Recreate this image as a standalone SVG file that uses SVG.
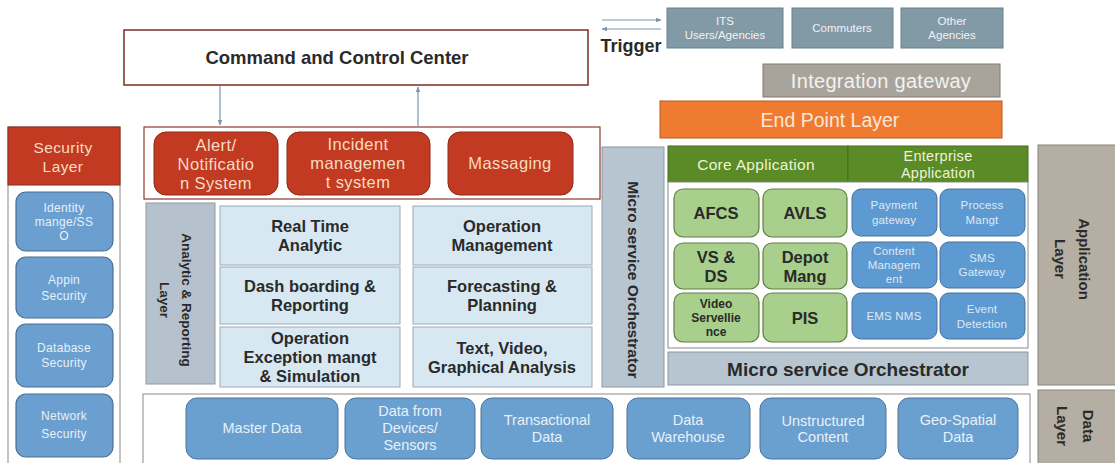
<svg xmlns="http://www.w3.org/2000/svg" width="1115" height="463" viewBox="0 0 1115 463">
<defs>
<marker id="ah" viewBox="0 0 10 10" refX="9" refY="5" markerWidth="5" markerHeight="5" orient="auto-start-reverse">
<path d="M0,1 L10,5 L0,9 z" fill="#7a94ad"/>
</marker>
<style>
text{font-family:"Liberation Sans",Arial,sans-serif;text-anchor:middle;dominant-baseline:central}
.dk{fill:#2a2a2a;font-weight:700}
.wt{fill:#f2f2f2}
.red{fill:#c23a22;stroke:#8e2a18;stroke-width:1}
.redt{fill:#f6dcc0;font-size:16.5px;letter-spacing:0.4px}
.sec{fill:#6a9fd0;stroke:#4b6f92;stroke-width:1.2}
.sect{fill:#e8f0f8;font-size:12px;letter-spacing:0.3px}
.gb{fill:#8299a6;stroke:#66808e;stroke-width:1}
.an{fill:#d8e8f3;stroke:#9aaab6;stroke-width:1}
.ant{font-size:16.5px}
.grn{fill:#a8d08c;stroke:#607f42;stroke-width:1.2}
.grt{font-size:16.5px}
.ent{fill:#5e9ad2;stroke:#46719a;stroke-width:1}
.entt{fill:#dfe9f3;font-size:11.5px;letter-spacing:0.2px}
.dat{fill:#6aa0d0;stroke:#4c7397;stroke-width:1}
.datt{fill:#e8f0f8;font-size:14.5px}
.ms{fill:#b7c5d1;stroke:#8a98a3;stroke-width:1}
.lay{fill:#b4afa2;stroke:#8a867c;stroke-width:1}
.conn{stroke:#7a94ad;stroke-width:1.2;fill:none;marker-end:url(#ah)}
</style>
</defs>
<rect width="1115" height="463" fill="#ffffff"/>

<g id="command-center">
<rect x="124" y="30" width="464" height="55" fill="#ffffff" stroke="#7a2e22" stroke-width="1.5"/>
<text x="337" y="57" class="dk" font-size="18.5">Command and Control Center</text>
</g>

<g id="trigger">
<text x="631" y="46" class="dk" font-size="18">Trigger</text>
</g>

<g id="its-users">
<rect x="667" y="8" width="116" height="40" class="gb"/>
<text x="725" y="21" class="wt" font-size="11.5">ITS</text>
<text x="725" y="35" class="wt" font-size="11.5">Users/Agencies</text>
</g>
<g id="commuters">
<rect x="792" y="8" width="101" height="40" class="gb"/>
<text x="842" y="28" class="wt" font-size="11.5">Commuters</text>
</g>
<g id="other-agencies">
<rect x="901" y="8" width="102" height="40" class="gb"/>
<text x="952" y="21" class="wt" font-size="11.5">Other</text>
<text x="952" y="35" class="wt" font-size="11.5">Agencies</text>
</g>

<g id="integration-gateway">
<rect x="763" y="64" width="237" height="33" fill="#a9a49b" stroke="#807b73" stroke-width="1"/>
<text x="881" y="81" class="wt" font-size="20" letter-spacing="0.3">Integration gateway</text>
</g>

<g id="end-point-layer">
<rect x="660" y="101" width="342" height="37" fill="#ee7b30" stroke="#b85a1e" stroke-width="1"/>
<text x="830" y="120" fill="#fbe6d6" font-size="19.5">End Point Layer</text>
</g>

<g id="security-layer">
<rect x="8" y="127" width="112" height="340" fill="#ffffff" stroke="#8a8a8a" stroke-width="1"/>
<rect x="8" y="127" width="112" height="58" fill="#c23a22" stroke="#8e2a18" stroke-width="1"/>
<text x="63" y="147" fill="#f6dcc0" font-size="15.5" letter-spacing="0.4">Security</text>
<text x="63" y="166" fill="#f6dcc0" font-size="15.5" letter-spacing="0.4">Layer</text>
</g>
<g id="identity">
<rect x="16" y="192" width="97" height="59" rx="10" class="sec"/>
<text x="64" y="208" class="sect">Identity</text>
<text x="64" y="222" class="sect">mange/SS</text>
<text x="64" y="236" class="sect">O</text>
</g>
<g id="appin-security">
<rect x="16" y="257" width="97" height="61" rx="10" class="sec"/>
<text x="64" y="280" class="sect">Appin</text>
<text x="64" y="296" class="sect">Security</text>
</g>
<g id="database-security">
<rect x="16" y="324" width="97" height="63" rx="10" class="sec"/>
<text x="64" y="348" class="sect">Database</text>
<text x="64" y="363" class="sect">Security</text>
</g>
<g id="network-security">
<rect x="16" y="394" width="97" height="63" rx="10" class="sec"/>
<text x="64" y="416" class="sect">Network</text>
<text x="64" y="434" class="sect">Security</text>
</g>

<g id="notification-group">
<rect x="144" y="127" width="456" height="72" fill="#ffffff" stroke="#8e3a2a" stroke-width="1.2"/>
</g>
<g id="alert">
<rect x="154" y="132" width="124" height="63" rx="12" class="red"/>
<text x="216" y="145" class="redt">Alert/</text>
<text x="216" y="164" class="redt">Notificatio</text>
<text x="216" y="183" class="redt">n System</text>
</g>
<g id="incident">
<rect x="287" y="132" width="143" height="63" rx="12" class="red"/>
<text x="358" y="144" class="redt">Incident</text>
<text x="358" y="163" class="redt">managemen</text>
<text x="358" y="182" class="redt">t system</text>
</g>
<g id="massaging">
<rect x="448" y="132" width="125" height="63" rx="12" class="red"/>
<text x="510" y="163" class="redt">Massaging</text>
</g>

<g id="analytic-layer">
<rect x="146" y="203" width="69" height="181" fill="#b5c1cc" stroke="#8e9aa4" stroke-width="1"/>
<text transform="translate(186,300) rotate(90)" class="dk" font-size="13.5">Analytic &amp; Reporting</text>
<text transform="translate(164,300) rotate(90)" class="dk" font-size="13.5">Layer</text>
</g>
<g id="real-time">
<rect x="220" y="206" width="180" height="59" class="an"/>
<text x="310" y="226" class="dk ant">Real Time</text>
<text x="310" y="245" class="dk ant">Analytic</text>
</g>
<g id="operation-management">
<rect x="413" y="206" width="179" height="59" class="an"/>
<text x="502" y="226" class="dk ant">Operation</text>
<text x="502" y="245" class="dk ant">Management</text>
</g>
<g id="dashboarding">
<rect x="220" y="267" width="180" height="57" class="an"/>
<text x="310" y="286" class="dk ant">Dash boarding &amp;</text>
<text x="310" y="305" class="dk ant">Reporting</text>
</g>
<g id="forecasting">
<rect x="413" y="267" width="179" height="57" class="an"/>
<text x="502" y="286" class="dk ant">Forecasting &amp;</text>
<text x="502" y="305" class="dk ant">Planning</text>
</g>
<g id="operation-exception">
<rect x="220" y="327" width="180" height="60" class="an"/>
<text x="310" y="338" class="dk ant">Operation</text>
<text x="310" y="357" class="dk ant">Exception mangt</text>
<text x="310" y="376" class="dk ant">&amp; Simulation</text>
</g>
<g id="text-video">
<rect x="413" y="327" width="179" height="60" class="an"/>
<text x="502" y="348" class="dk ant">Text, Video,</text>
<text x="502" y="367" class="dk ant">Graphical Analysis</text>
</g>

<g id="micro-service-vertical">
<rect x="602" y="147" width="62" height="240" class="ms"/>
<text transform="translate(633,280) rotate(90)" class="dk" font-size="15.5">Micro service Orchestrator</text>
</g>

<g id="app-header">
<rect x="668" y="146" width="180" height="36" fill="#5a8b26" stroke="#466d1d" stroke-width="1"/>
<rect x="848" y="146" width="180" height="36" fill="#5a8b26" stroke="#466d1d" stroke-width="1"/>
<text x="756" y="164" fill="#eef3d6" font-size="15.5" letter-spacing="0.3">Core Application</text>
<text x="938" y="156" fill="#eef3d6" font-size="14.5" letter-spacing="0.3">Enterprise</text>
<text x="938" y="173" fill="#eef3d6" font-size="14.5" letter-spacing="0.3">Application</text>
</g>
<g id="app-container">
<rect x="668" y="182" width="360" height="166" fill="#ffffff" stroke="#8a8a8a" stroke-width="1"/>
</g>
<g id="afcs">
<rect x="674" y="189" width="85" height="48" rx="9" class="grn"/>
<text x="716" y="213" class="dk grt">AFCS</text>
</g>
<g id="avls">
<rect x="763" y="189" width="84" height="48" rx="9" class="grn"/>
<text x="805" y="213" class="dk grt">AVLS</text>
</g>
<g id="vs-ds">
<rect x="674" y="243" width="85" height="46" rx="9" class="grn"/>
<text x="716" y="257" class="dk grt">VS &amp;</text>
<text x="716" y="276" class="dk grt">DS</text>
</g>
<g id="depot-mang">
<rect x="763" y="243" width="84" height="46" rx="9" class="grn"/>
<text x="805" y="257" class="dk grt">Depot</text>
<text x="805" y="276" class="dk grt">Mang</text>
</g>
<g id="video-surveillance">
<rect x="674" y="293" width="85" height="49" rx="9" class="grn"/>
<text x="716" y="304" class="dk" font-size="12">Video</text>
<text x="716" y="318" class="dk" font-size="12">Servellie</text>
<text x="716" y="332" class="dk" font-size="12">nce</text>
</g>
<g id="pis">
<rect x="763" y="293" width="84" height="49" rx="9" class="grn"/>
<text x="805" y="318" class="dk grt">PIS</text>
</g>
<g id="payment-gateway">
<rect x="852" y="189" width="85" height="47" rx="9" class="ent"/>
<text x="894" y="205" class="entt">Payment</text>
<text x="894" y="220" class="entt">gateway</text>
</g>
<g id="process-mangt">
<rect x="940" y="189" width="85" height="47" rx="9" class="ent"/>
<text x="982" y="205" class="entt">Process</text>
<text x="982" y="220" class="entt">Mangt</text>
</g>
<g id="content-management">
<rect x="852" y="242" width="85" height="46" rx="9" class="ent"/>
<text x="894" y="251" class="entt">Content</text>
<text x="894" y="265" class="entt">Managem</text>
<text x="894" y="279" class="entt">ent</text>
</g>
<g id="sms-gateway">
<rect x="940" y="242" width="85" height="46" rx="9" class="ent"/>
<text x="982" y="258" class="entt">SMS</text>
<text x="982" y="272" class="entt">Gateway</text>
</g>
<g id="ems-nms">
<rect x="852" y="293" width="85" height="46" rx="9" class="ent"/>
<text x="894" y="316" class="entt">EMS NMS</text>
</g>
<g id="event-detection">
<rect x="940" y="293" width="85" height="46" rx="9" class="ent"/>
<text x="982" y="309" class="entt">Event</text>
<text x="982" y="324" class="entt">Detection</text>
</g>

<g id="micro-service-horizontal">
<rect x="668" y="352" width="360" height="33" class="ms"/>
<text x="848" y="369" class="dk" font-size="19">Micro service Orchestrator</text>
</g>

<g id="application-layer">
<rect x="1038" y="145" width="80" height="240" class="lay"/>
<text transform="translate(1084,259) rotate(90)" class="dk" font-size="15">Application</text>
<text transform="translate(1060,259) rotate(90)" class="dk" font-size="15">Layer</text>
</g>
<g id="data-layer">
<rect x="1038" y="390" width="80" height="78" class="lay"/>
<text transform="translate(1088,426) rotate(90)" class="dk" font-size="15">Data</text>
<text transform="translate(1062,426) rotate(90)" class="dk" font-size="15">Layer</text>
</g>

<g id="data-container">
<rect x="143" y="394" width="887" height="74" fill="#ffffff" stroke="#8a8a8a" stroke-width="1"/>
</g>
<g id="master-data">
<rect x="186" y="398" width="152" height="61" rx="11" class="dat"/>
<text x="262" y="428" class="datt">Master Data</text>
</g>
<g id="devices-sensors">
<rect x="345" y="398" width="130" height="61" rx="11" class="dat"/>
<text x="410" y="411" class="datt">Data from</text>
<text x="410" y="428" class="datt">Devices/</text>
<text x="410" y="445" class="datt">Sensors</text>
</g>
<g id="transactional-data">
<rect x="481" y="398" width="132" height="61" rx="11" class="dat"/>
<text x="547" y="420" class="datt">Transactional</text>
<text x="547" y="437" class="datt">Data</text>
</g>
<g id="data-warehouse">
<rect x="627" y="398" width="123" height="61" rx="11" class="dat"/>
<text x="688" y="420" class="datt">Data</text>
<text x="688" y="437" class="datt">Warehouse</text>
</g>
<g id="unstructured-content">
<rect x="760" y="398" width="126" height="61" rx="11" class="dat"/>
<text x="823" y="421" class="datt" font-size="13">Unstructured</text>
<text x="823" y="437" class="datt" font-size="13">Content</text>
</g>
<g id="geo-spatial">
<rect x="898" y="398" width="120" height="61" rx="11" class="dat"/>
<text x="958" y="420" class="datt">Geo-Spatial</text>
<text x="958" y="437" class="datt">Data</text>
</g>

<g id="connectors">
<line x1="220" y1="86" x2="220" y2="125" class="conn"/>
<line x1="418" y1="126" x2="418" y2="87" class="conn"/>
<line x1="602" y1="20" x2="661" y2="20" class="conn"/>
<line x1="661" y1="29" x2="602" y2="29" class="conn"/>
</g>
</svg>
